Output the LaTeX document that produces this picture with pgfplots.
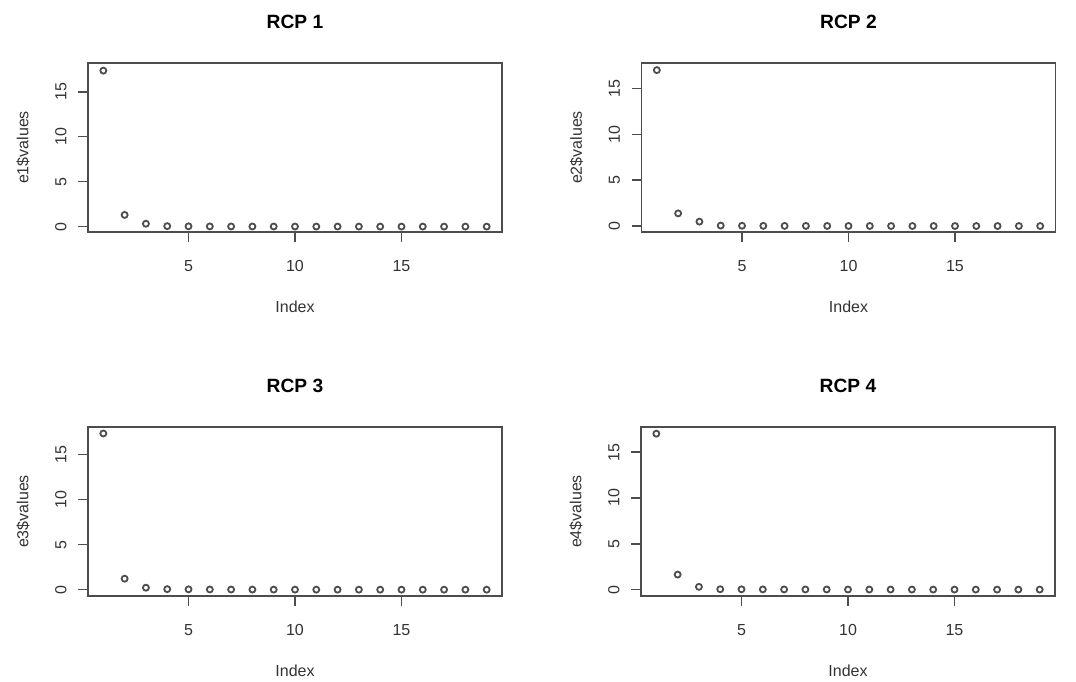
\documentclass[border=0pt]{standalone}
\usepackage{fontspec}
\setmainfont{Liberation Sans}
\usepackage{pgfplots}
\pgfplotsset{compat=1.18}
\definecolor{axgray}{HTML}{4D4D4D}
\definecolor{txtgray}{HTML}{333333}
\pgfplotsset{rplot/.style={
  scale only axis, width=414pt, height=169pt, anchor=south west,
  xmin=0.28, xmax=19.72,
  axis line style={axgray, line width=1.5pt},
  tick style={axgray, line width=1.5pt},
  tick align=outside, major tick length=10pt,
  xtick={5,10,15}, ytick={0,5,10,15},
  xtick pos=left, ytick pos=left,
  ticklabel style={font=\fontsize{16pt}{19pt}\selectfont, text=txtgray},
  /pgf/number format/assume math mode=true,
  xticklabel style={yshift=-15pt},
  yticklabel style={rotate=90, anchor=south, yshift=8pt},
  label style={font=\fontsize{16pt}{19pt}\selectfont, text=txtgray},
  xlabel=Index,
  xlabel style={at={(axis description cs:0.5,-0.444)}, anchor=center},
  ylabel style={at={(axis description cs:-0.157,0.5)}, anchor=center},
  title style={at={(axis description cs:0.5,1.205)}, anchor=center, font=\fontsize{19.2pt}{23pt}\selectfont\bfseries, text=black},
},
rpts/.style={only marks, mark=o, mark size=3pt, draw=axgray, mark options={line width=1.8pt, draw=axgray, fill=none}}}
\begin{document}
\begin{tikzpicture}
\useasboundingbox (0pt,0pt) rectangle (1076pt,682pt);
% RCP 1
\begin{axis}[rplot, at={(88pt,450pt)}, ymin=-0.6, ymax=18.2, title={RCP 1}, ylabel={e1\$values}]
\addplot[rpts] coordinates {(1,17.35) (2,1.30) (3,0.32) (4,0.05) (5,0.03) (6,0.02) (7,0.015) (8,0.012) (9,0.01) (10,0.008) (11,0.006) (12,0.005) (13,0.004) (14,0.003) (15,0.002) (16,0.002) (17,0.001) (18,0.001) (19,0.0005)};
\end{axis}
% RCP 2
\begin{axis}[rplot, at={(641.5pt,450pt)}, ymin=-0.65, ymax=17.8, title={RCP 2}, ylabel={e2\$values}]
\addplot[rpts] coordinates {(1,17.02) (2,1.38) (3,0.48) (4,0.05) (5,0.03) (6,0.02) (7,0.015) (8,0.012) (9,0.01) (10,0.008) (11,0.006) (12,0.005) (13,0.004) (14,0.003) (15,0.002) (16,0.002) (17,0.001) (18,0.001) (19,0.0005)};
\end{axis}
% RCP 3
\begin{axis}[rplot, at={(88pt,86pt)}, ymin=-0.7, ymax=18.05, title={RCP 3}, ylabel={e3\$values}]
\addplot[rpts] coordinates {(1,17.33) (2,1.22) (3,0.22) (4,0.06) (5,0.04) (6,0.025) (7,0.018) (8,0.013) (9,0.01) (10,0.008) (11,0.006) (12,0.005) (13,0.004) (14,0.003) (15,0.002) (16,0.002) (17,0.001) (18,0.001) (19,0.0005)};
\end{axis}
% RCP 4
\begin{axis}[rplot, at={(641pt,86pt)}, ymin=-0.7, ymax=17.75, title={RCP 4}, ylabel={e4\$values}]
\addplot[rpts] coordinates {(1,17.02) (2,1.64) (3,0.30) (4,0.04) (5,0.03) (6,0.02) (7,0.015) (8,0.012) (9,0.01) (10,0.008) (11,0.006) (12,0.005) (13,0.004) (14,0.003) (15,0.002) (16,0.002) (17,0.001) (18,0.001) (19,0.0005)};
\end{axis}
\end{tikzpicture}
\end{document}
